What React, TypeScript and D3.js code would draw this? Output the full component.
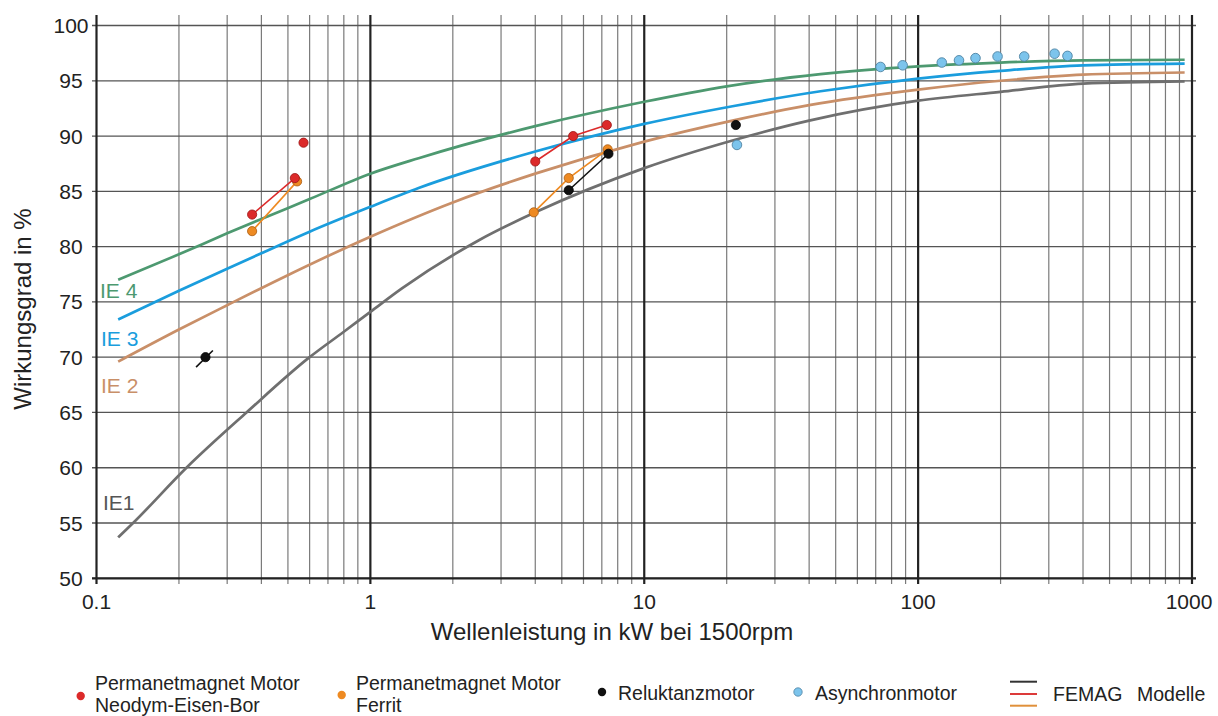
import * as d3 from 'd3';

const width = 1218;
const height = 716;
const font = '"Liberation Sans", Arial, sans-serif';

// IE-Klassen: Wellenleistung (kW) und Wirkungsgrad (%)
const ie1Power = [0.12, 0.136, 0.213, 0.353, 0.6, 0.8, 1, 1.3, 2.5, 4, 10, 21, 40, 100, 200, 400, 940];
const ie1Eff = [53.7, 55, 60, 65, 70, 72.3, 74.1, 76.2, 80.6, 83.1, 87.1, 89.6, 91.4, 93.2, 94.0, 94.75, 94.95];
const ie2Power = [0.12, 0.2, 0.3, 0.47, 1, 2, 4, 10, 21, 40, 100, 200, 400, 940];
const ie2Eff = [69.6, 72.5, 74.7, 77.1, 80.9, 84.0, 86.6, 89.5, 91.4, 92.8, 94.2, 95.0, 95.55, 95.75];
const ie3Power = [0.12, 0.2, 0.3, 0.4, 0.6, 1, 1.5, 4, 10, 21, 44, 100, 200, 400, 940];
const ie3Eff = [73.4, 76.0, 78.0, 79.4, 81.35, 83.6, 85.3, 88.6, 91.1, 92.7, 94.05, 95.2, 95.9, 96.4, 96.55];
const ie4Power = [0.12, 0.2, 0.3, 0.4, 0.6, 1, 1.5, 4, 10, 20, 44, 100, 200, 400, 940];
const ie4Eff = [77.0, 79.3, 81.2, 82.5, 84.3, 86.6, 88.0, 90.9, 93.1, 94.5, 95.6, 96.3, 96.65, 96.85, 96.9];

// Messpunkte, verbundene Gruppen = FEMAG Modelle
const ndfebGroups: [number, number][][] = [
  [[0.37, 82.9], [0.53, 86.2]],
  [[0.57, 89.4]],
  [[4.0, 87.7], [5.5, 90.0], [7.3, 91.0]],
];
const ferritGroups: [number, number][][] = [
  [[0.37, 81.4], [0.54, 85.9]],
  [[3.95, 83.1], [5.3, 86.2], [7.35, 88.8]],
];
const reluktanzModel: [number, number][] = [[0.231, 69.1], [0.266, 70.6]];
const reluktanzGroups: [number, number][][] = [
  [[0.25, 70.0]],
  [[5.3, 85.1], [7.4, 88.4]],
  [[21.6, 91.0]],
];
const asyncPoints: [number, number][] = [
  [21.8, 89.2], [72.9, 96.25], [87.8, 96.4], [122, 96.65], [141, 96.85],
  [162, 97.05], [195, 97.2], [244, 97.2], [315, 97.45], [351, 97.25],
];

const yTicks = [50, 55, 60, 65, 70, 75, 80, 85, 90, 95, 100];
const xTicks = [0.1, 1, 10, 100, 1000];
const xTickLabels = ['0.1', '1', '10', '100', '1000'];

const x = d3.scaleLog().domain([0.1, 1000]).range([96.5, 1192]);
const y = d3.scaleLinear().domain([50, 100]).range([578.3, 25.5]);

const curve = d3
  .line<[number, number]>()
  .x((d) => x(d[0]))
  .y((d) => y(d[1]))
  .curve(d3.curveMonotoneX);
const straight = d3
  .line<[number, number]>()
  .x((d) => x(d[0]))
  .y((d) => y(d[1]));

const zip = (p: number[], e: number[]) => p.map((v, i) => [v, e[i]] as [number, number]);

const ieCurves = [
  { name: 'IE1', data: zip(ie1Power, ie1Eff), color: '#6f6f6f', label: 'IE1', lx: 103, ly: 510, lc: '#555555' },
  { name: 'IE2', data: zip(ie2Power, ie2Eff), color: '#c98f68', label: 'IE 2', lx: 101, ly: 393, lc: '#c98f68' },
  { name: 'IE3', data: zip(ie3Power, ie3Eff), color: '#1a9ddd', label: 'IE 3', lx: 101, ly: 346, lc: '#1a9ddd' },
  { name: 'IE4', data: zip(ie4Power, ie4Eff), color: '#4d9970', label: 'IE 4', lx: 100, ly: 298, lc: '#4d9970' },
];

const minorX: number[] = [];
[0.1, 1, 10, 100].forEach((dec) => {
  for (let k = 2; k <= 9; k++) minorX.push(dec * k);
});

const Dots = ({ groups, fill, stroke, line }: { groups: [number, number][][]; fill: string; stroke: string; line: string }) => (
  <g>
    {groups.map((g, i) =>
      g.length > 1 ? <path key={'l' + i} d={straight(g) || ''} fill="none" stroke={line} strokeWidth={1.6} /> : null
    )}
    {groups.flat().map((d, i) => (
      <circle key={i} cx={x(d[0])} cy={y(d[1])} r={4.6} fill={fill} stroke={stroke} strokeWidth={0.8} />
    ))}
  </g>
);

export default function App() {
  return (
    <>
      <style>{'body{margin:0;background:#fff}'}</style>
      <svg width={width} height={height} style={{ display: 'block', fontFamily: font }}>
        <rect width={width} height={height} fill="#fff" />

        {/* Gitter */}
        {minorX.map((v) => (
          <line key={'mx' + v} x1={x(v)} x2={x(v)} y1={15} y2={584} stroke="#7a7a7a" strokeWidth={1.2} />
        ))}
        {yTicks.map((v) => (
          <line key={'hy' + v} x1={92} x2={1196} y1={y(v)} y2={y(v)} stroke="#555" strokeWidth={1.3} />
        ))}
        {xTicks.map((v) => (
          <line key={'dx' + v} x1={x(v)} x2={x(v)} y1={15} y2={584} stroke="#222" strokeWidth={2.2} />
        ))}
        <line x1={92} x2={1196} y1={y(50)} y2={y(50)} stroke="#222" strokeWidth={2.2} />

        {/* IE Kurven */}
        {ieCurves.map((c) => (
          <path key={c.name} d={curve(c.data) || ''} fill="none" stroke={c.color} strokeWidth={2.7} />
        ))}
        {ieCurves.map((c) => (
          <text key={'t' + c.name} x={c.lx} y={c.ly} fill={c.lc} fontSize={21}>
            {c.label}
          </text>
        ))}

        {/* Messpunkte */}
        <path d={straight(reluktanzModel) || ''} fill="none" stroke="#111" strokeWidth={1.6} />
        <Dots groups={ferritGroups} fill="#ee8a22" stroke="#a85a10" line="#ee8a22" />
        <Dots groups={reluktanzGroups} fill="#111" stroke="#000" line="#111" />
        <Dots groups={ndfebGroups} fill="#dc2a2a" stroke="#9a1515" line="#dc2a2a" />
        {asyncPoints.map((d, i) => (
          <circle key={'a' + i} cx={x(d[0])} cy={y(d[1])} r={4.8} fill="#7cc4ec" stroke="#4f83a3" strokeWidth={0.9} />
        ))}

        {/* Achsenbeschriftung */}
        {yTicks.map((v) => (
          <text key={'yl' + v} x={71} y={y(v) + 7.5} textAnchor="middle" fontSize={21} fill="#222">
            {v}
          </text>
        ))}
        {xTicks.map((v, i) => (
          <text key={'xl' + v} x={x(v) - (i === 4 ? 3 : 0)} y={609} textAnchor="middle" fontSize={21} fill="#222">
            {xTickLabels[i]}
          </text>
        ))}
        <text x={612} y={640} textAnchor="middle" fontSize={24} fill="#222">
          Wellenleistung in kW bei 1500rpm
        </text>
        <text transform="translate(31,309) rotate(-90)" textAnchor="middle" fontSize={24} fill="#222">
          Wirkungsgrad in %
        </text>

        {/* Legende */}
        <g fontSize={19.5} fill="#222">
          <circle cx={80.7} cy={696} r={4.2} fill="#dc2a2a" />
          <text x={95} y={689.5}>Permanetmagnet Motor</text>
          <text x={95} y={711.5}>Neodym-Eisen-Bor</text>

          <circle cx={341.7} cy={695} r={4.2} fill="#ee8a22" />
          <text x={356} y={689.5}>Permanetmagnet Motor</text>
          <text x={356} y={711.5}>Ferrit</text>

          <circle cx={602} cy={692} r={4.2} fill="#111" />
          <text x={618} y={700}>Reluktanzmotor</text>

          <circle cx={798} cy={692} r={4.2} fill="#7cc4ec" stroke="#4f83a3" strokeWidth={0.8} />
          <text x={815} y={700}>Asynchronmotor</text>

          <line x1={1010} x2={1037} y1={681.7} y2={681.7} stroke="#333" strokeWidth={2} />
          <line x1={1010} x2={1037} y1={694} y2={694} stroke="#dc3a3a" strokeWidth={2} />
          <line x1={1010} x2={1037} y1={705.7} y2={705.7} stroke="#e0903a" strokeWidth={2} />
          <text x={1053} y={700.5}>FEMAG</text>
          <text x={1137} y={700.5}>Modelle</text>
        </g>
      </svg>
    </>
  );
}
